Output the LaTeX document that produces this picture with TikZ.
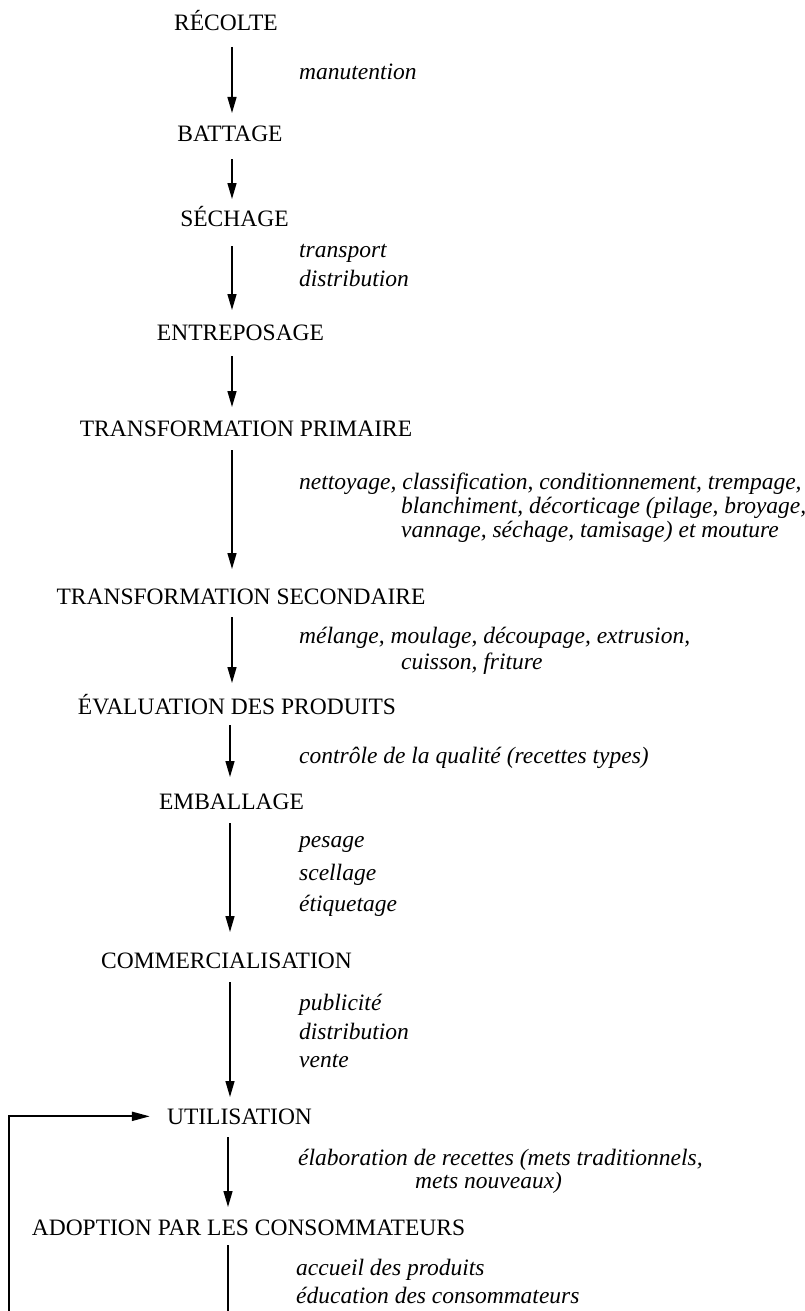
\documentclass[tikz,border=0pt]{standalone}
\usepackage{fontspec}
\setmainfont{Liberation Serif}
\usetikzlibrary{arrows.meta,calc}
\begin{document}
\begin{tikzpicture}[x=1pt,y=-1pt,
  stage/.style={anchor=base,inner sep=0pt,font=\fontsize{23.5}{28}\selectfont},
  note/.style={anchor=base west,inner sep=0pt,font=\fontsize{23.5}{28}\selectfont\itshape},
  arr/.style={line width=1.4pt,-{Triangle[length=16pt,width=9pt]}},
  plain/.style={line width=1.4pt},
  fb/.style={line width=2pt,-{Triangle[length=18pt,width=9pt]}}]
\useasboundingbox (0,0) rectangle (804,1311);
% axes for the vertical arrows
\coordinate (ax1) at (232,0);
\coordinate (ax2) at (230,0);
\coordinate (ax3) at (228,0);
% stages
\node[stage] (recolte)  at (226,31)   {RÉCOLTE};
\node[stage] (battage)  at (230,142)  {BATTAGE};
\node[stage] (sechage)  at (234.5,226) {SÉCHAGE};
\node[stage] (entrepos) at (240.5,340) {ENTREPOSAGE};
\node[stage] (tprim)    at (246,436)  {TRANSFORMATION PRIMAIRE};
\node[stage] (tsec)     at (241,604)  {TRANSFORMATION SECONDAIRE};
\node[stage] (evalp)    at (237,714)  {ÉVALUATION DES PRODUITS};
\node[stage] (emball)   at (231.5,809) {EMBALLAGE};
\node[stage] (comm)     at (226.5,968) {COMMERCIALISATION};
\node[stage] (util)     at (239.5,1124) {UTILISATION};
\node[stage] (adopt)    at (248.5,1235) {ADOPTION PAR LES CONSOMMATEURS};
% notes
\node[note] (n1)  at (299,80)  {manutention};
\node[note] (n2a) at (299,257) {transport};
\node[note] (n2b) at (299,286) {distribution};
\node[note] (n3a) at (299,489) {nettoyage, classification, conditionnement, trempage,};
\node[note] (n3b) at (401,513) {blanchiment, décorticage (pilage, broyage,};
\node[note] (n3c) at (401,537) {vannage, séchage, tamisage) et mouture};
\node[note] (n4a) at (299,643) {mélange, moulage, découpage, extrusion,};
\node[note] (n4b) at (401,669) {cuisson, friture};
\node[note] (n5)  at (299,763) {contrôle de la qualité (recettes types)};
\node[note] (n6a) at (299,847) {pesage};
\node[note] (n6b) at (299,880) {scellage};
\node[note] (n6c) at (299,911) {étiquetage};
\node[note] (n7a) at (299,1010) {publicité};
\node[note] (n7b) at (299,1039) {distribution};
\node[note] (n7c) at (299,1067) {vente};
\node[note] (n8a) at (298,1165) {élaboration de recettes (mets traditionnels,};
\node[note] (n8b) at (415,1188) {mets nouveaux)};
\node[note] (n9a) at (296,1275) {accueil des produits};
\node[note] (n9b) at (296,1303) {éducation des consommateurs};
% arrows
\draw[arr] ($(recolte.base -| ax1)+(0,16)$) -- ($(battage.base -| ax1)+(0,-29)$);
\draw[arr] ($(battage.base -| ax1)+(0,17)$) -- ($(sechage.base -| ax1)+(0,-27)$);
\draw[arr] ($(sechage.base -| ax1)+(0,20)$) -- ($(entrepos.base -| ax1)+(0,-30)$);
\draw[arr] ($(entrepos.base -| ax1)+(0,16)$) -- ($(tprim.base -| ax1)+(0,-29)$);
\draw[arr] ($(tprim.base -| ax1)+(0,14)$) -- ($(tsec.base -| ax1)+(0,-35)$);
\draw[arr] ($(tsec.base -| ax1)+(0,13)$) -- ($(evalp.base -| ax1)+(0,-31)$);
\draw[arr] ($(evalp.base -| ax2)+(0,11)$) -- ($(emball.base -| ax2)+(0,-32)$);
\draw[arr] ($(emball.base -| ax2)+(0,14)$) -- ($(comm.base -| ax2)+(0,-36)$);
\draw[arr] ($(comm.base -| ax2)+(0,14)$) -- ($(util.base -| ax2)+(0,-27)$);
\draw[arr] ($(util.base -| ax3)+(0,13)$) -- ($(adopt.base -| ax3)+(0,-28)$);
\coordinate (bot) at (228,1311);
\draw[plain] ($(adopt.base -| ax3)+(0,10)$) -- (bot);
% feedback loop
\coordinate (loopbot) at (9,1311);
\draw[fb,shorten >=17pt] (loopbot) |- (util.west);
\end{tikzpicture}
\end{document}
